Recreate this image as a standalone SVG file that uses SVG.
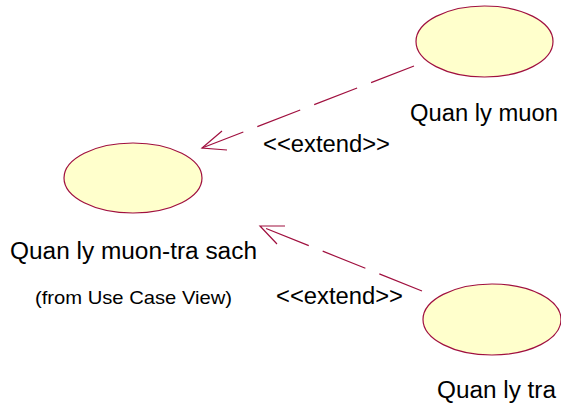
<svg xmlns="http://www.w3.org/2000/svg" width="561" height="408" viewBox="0 0 561 408">
<style>
.uc{fill:#ffffcc;stroke:#a0103f;stroke-width:1.2}
.lbl{font-family:"Liberation Sans",Arial,sans-serif;font-size:23px;fill:#000}
.sm{font-family:"Liberation Sans",Arial,sans-serif;font-size:19px;fill:#000}
.dep{fill:none;stroke:#a0103f;stroke-width:1.2;stroke-dasharray:46 15}
.ah{fill:none;stroke:#a0103f;stroke-width:1.2}
</style>
<rect width="561" height="408" fill="#fff"/>
<g id="connectors">
<g id="ext1">
<line class="dep" x1="414" y1="66" x2="202" y2="148"/>
<polyline class="ah" points="222,131 202,148 227,150"/>
<text class="lbl" x="263" y="152" textLength="127" lengthAdjust="spacingAndGlyphs">&lt;&lt;extend&gt;&gt;</text>
</g>
<g id="ext2">
<line class="dep" x1="422" y1="291" x2="260" y2="226"/>
<polyline class="ah" points="285,226 260,226 277,244"/>
<text class="lbl" x="276" y="304" textLength="127" lengthAdjust="spacingAndGlyphs">&lt;&lt;extend&gt;&gt;</text>
</g>
</g>
<g id="uc-main">
<ellipse class="uc" cx="133" cy="178" rx="69" ry="35"/>
<text class="lbl" x="10" y="259" textLength="247" lengthAdjust="spacingAndGlyphs">Quan ly muon-tra sach</text>
<text class="sm" x="35" y="304" textLength="197" lengthAdjust="spacingAndGlyphs">(from Use Case View)</text>
</g>
<g id="uc-muon">
<ellipse class="uc" cx="484.5" cy="41.5" rx="68.5" ry="35.5"/>
<text class="lbl" x="410" y="121" textLength="148" lengthAdjust="spacingAndGlyphs">Quan ly muon</text>
</g>
<g id="uc-tra">
<ellipse class="uc" cx="492" cy="319.5" rx="69" ry="35.5"/>
<text class="lbl" x="437" y="398" textLength="119" lengthAdjust="spacingAndGlyphs">Quan ly tra</text>
</g>
</svg>
